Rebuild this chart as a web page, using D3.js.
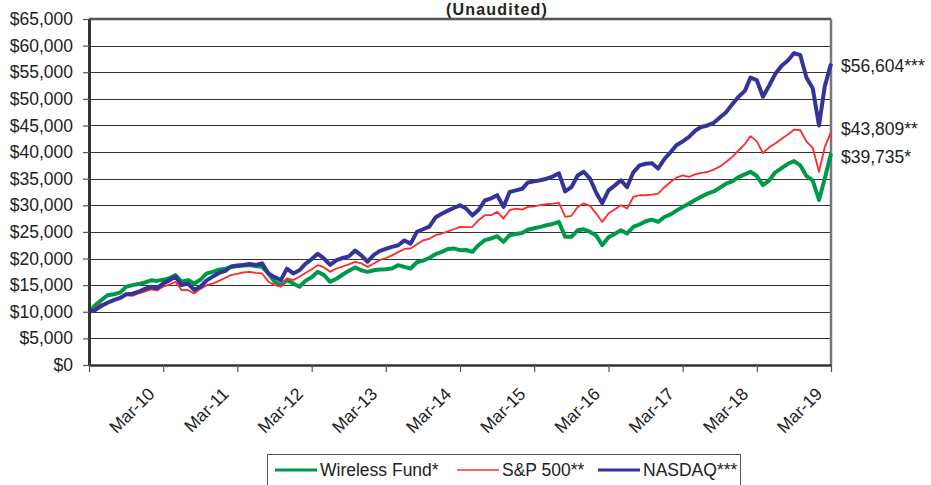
<!DOCTYPE html>
<html>
<head>
<meta charset="utf-8">
<script src="https://cdn.jsdelivr.net/npm/d3@7"></script>
<style>
  body { margin: 0; background: #fff; }
  svg { display: block; font-family: Arial, "Liberation Sans", sans-serif; }
</style>
</head>
<body>
<div id="chart"></div>
<script>
// value of $10,000, month-end readings from Mar-09 to Mar-19 (121 points each)
var wirelessFund = [
  10000, 11200, 12200, 13100, 13300, 13600, 14700, 15000, 15200, 15500, 15900, 15800,
  16000, 16300, 16880, 15630, 15950, 15300, 16000, 17200, 17500, 17900, 18100, 18400,
  18600, 18700, 18760, 18600, 18440, 17200, 15630, 15000, 15950, 15330, 14700, 15800,
  16500, 17500, 16880, 15630, 16200, 17000, 17700, 18330, 17800, 17500, 17800, 17950,
  18000, 18130, 18760, 18440, 18130, 19300, 19600, 20100, 20820, 21260, 21800, 21900,
  21570, 21600, 21260, 22500, 23450, 23770, 24200, 23130, 24390, 24600, 24800, 25400,
  25700, 25950, 26260, 26500, 26880, 24070, 24070, 25300, 25500, 25000, 24300, 22500,
  24000, 24600, 25330, 24700, 25950, 26400, 27000, 27300, 26900, 27800, 28300, 29000,
  29700, 30300, 31000, 31600, 32200, 32600, 33300, 34080, 34500, 35300, 35800, 36300,
  35500, 33800, 34700, 36200, 37000, 37800, 38300, 37500, 35500, 34700, 31000, 35000,
  39735
];
var sp500 = [
  10000, 10600, 11500, 11600, 12200, 12700, 13100, 13000, 13450, 13800, 14200, 14000,
  14700, 15100, 15630, 14070, 14100, 13450, 14300, 15000, 15300, 15800, 16400, 16880,
  17100, 17400, 17500, 17300, 17200, 15630, 15000, 14700, 16260, 15950, 16570, 17300,
  18000, 18760, 18330, 17500, 18130, 18500, 18900, 19380, 19100, 18440, 19070, 19700,
  20100, 20600, 21200, 21800, 21890, 22700, 23400, 23700, 24390, 24700, 25100, 25500,
  25950, 25900, 25950, 27200, 28140, 28140, 28760, 27520, 29080, 29390, 29200, 29700,
  29800, 30020, 30200, 30300, 30450, 27820, 28000, 29700, 30330, 29900, 28400, 26880,
  28450, 29200, 30020, 29390, 31570, 31890, 31890, 32000, 32200, 33400, 34390, 35200,
  35640, 35320, 35800, 36100, 36260, 36700, 37300, 38140, 39100, 40300, 41500, 43000,
  42000, 39800, 40900, 41600, 42500, 43300, 44200, 44100, 42000, 40800, 36300, 40900,
  43809
];
var nasdaq = [
  10000, 10300, 11100, 11700, 12200, 12600, 13300, 13400, 13760, 14300, 14700, 14400,
  15300, 15900, 16570, 15000, 15300, 14100, 14700, 15900, 16600, 17300, 17700, 18500,
  18700, 18800, 19000, 18800, 19100, 17200, 16500, 15950, 18100, 17200, 17800, 19000,
  19900, 20900, 20000, 18800, 19700, 20100, 20400, 21500, 20600, 19400, 20700, 21400,
  21800, 22200, 22500, 23400, 22800, 25000, 25500, 26000, 27700, 28400, 29000, 29500,
  30000, 29400, 28100, 29100, 30900, 31300, 31900, 29700, 32500, 32800, 33100, 34300,
  34500, 34700, 35000, 35400, 36000, 32600, 33400, 35600, 36300, 35000, 32300, 30400,
  32800, 33700, 34700, 33400, 36200, 37500, 37800, 37900, 36900, 38700, 40000, 41300,
  42000, 42800, 44000, 44700, 45000, 45500, 46500, 47500, 49000, 50400, 51500, 54000,
  53500, 50400, 52500, 54700, 56200, 57200, 58600, 58200, 54000, 52000, 45000, 52300,
  56604
];

var seriesNames = ['Wireless Fund*', 'S&P 500**', 'NASDAQ***'];
var endLabels = ['$39,735*', '$43,809**', '$56,604***'];
var xTickLabels = ['', 'Mar-10', 'Mar-11', 'Mar-12', 'Mar-13', 'Mar-14',
  'Mar-15', 'Mar-16', 'Mar-17', 'Mar-18', 'Mar-19'];
var yTicks = [0, 5000, 10000, 15000, 20000, 25000, 30000, 35000,
  40000, 45000, 50000, 55000, 60000, 65000];

var width = 931, height = 485;
var plotLeft = 89, plotRight = 831, plotTop = 19, plotBottom = 365;

// month ends: Mar 31 2009 ... Mar 31 2019
var dates = d3.timeMonth.range(new Date(2009, 3, 1), new Date(2019, 4, 1))
  .map(function (d) { return d3.timeDay.offset(d, -1); });
var marchDates = dates.filter(function (d) { return d.getMonth() === 2; });

var x = d3.scaleTime()
  .domain([dates[0], dates[dates.length - 1]])
  .range([plotLeft, plotRight]);

var y = d3.scaleLinear()
  .domain([0, 65000])
  .range([plotBottom, plotTop]);

var svg = d3.select('#chart')
  .append('svg')
  .attr('width', width)
  .attr('height', height);

// title (cut at the top of the picture)
svg.append('text')
  .attr('x', 497)
  .attr('y', 15)
  .attr('text-anchor', 'middle')
  .attr('font-size', '16px')
  .attr('font-weight', 'bold')
  .attr('letter-spacing', '1.2px')
  .attr('fill', '#222')
  .text('(Unaudited)');

// horizontal grid
svg.append('g')
  .selectAll('line')
  .data(yTicks.slice(1, -1))
  .enter()
  .append('line')
  .attr('x1', plotLeft)
  .attr('x2', plotRight)
  .attr('y1', function (d) { return Math.round(y(d)) + 0.5; })
  .attr('y2', function (d) { return Math.round(y(d)) + 0.5; })
  .attr('stroke', '#333')
  .attr('stroke-width', 1.2);

// plot frame
svg.append('line')
  .attr('x1', plotLeft).attr('x2', plotRight).attr('y1', y(65000)).attr('y2', y(65000))
  .attr('stroke', '#555').attr('stroke-width', 2.5);
svg.append('line')
  .attr('x1', plotRight).attr('x2', plotRight).attr('y1', plotTop).attr('y2', plotBottom)
  .attr('stroke', '#777').attr('stroke-width', 2.5);

// series lines
var series = [
  { name: seriesNames[0], values: wirelessFund, color: '#00984a', width: 4 },
  { name: seriesNames[1], values: sp500, color: '#ff2b2b', width: 1.8 },
  { name: seriesNames[2], values: nasdaq, color: '#333399', width: 4 }
];

var line = d3.line()
  .x(function (d, i) { return x(dates[i]); })
  .y(function (d) { return y(d); });

svg.append('g')
  .selectAll('path')
  .data(series)
  .enter()
  .append('path')
  .attr('d', function (s) { return line(s.values); })
  .attr('fill', 'none')
  .attr('stroke', function (s) { return s.color; })
  .attr('stroke-width', function (s) { return s.width; })
  .attr('stroke-linejoin', 'round');

// y axis
var yAxis = svg.append('g')
  .attr('transform', 'translate(' + plotLeft + ',0)')
  .call(d3.axisLeft(y).tickValues(yTicks).tickSize(6).tickSizeOuter(0)
    .tickFormat(d3.format('$,')));
yAxis.select('.domain').attr('stroke', '#333').attr('stroke-width', 3);
yAxis.selectAll('.tick line').attr('stroke', '#555').attr('stroke-width', 1.2);
yAxis.selectAll('.tick text')
  .attr('x', -16)
  .attr('font-size', '17.5px')
  .attr('font-family', 'Arial, "Liberation Sans", sans-serif')
  .attr('fill', '#222');

// x axis
var xAxis = svg.append('g')
  .attr('transform', 'translate(0,' + plotBottom + ')')
  .call(d3.axisBottom(x).tickValues(marchDates).tickSize(7).tickSizeOuter(0)
    .tickFormat(function (d, i) { return xTickLabels[i]; }));
xAxis.select('.domain').attr('stroke', '#333').attr('stroke-width', 2.5);
xAxis.selectAll('.tick line').attr('stroke', '#555').attr('stroke-width', 1.2);
xAxis.selectAll('.tick text')
  .attr('y', 0)
  .attr('dy', 0)
  .attr('text-anchor', 'end')
  .attr('transform', 'translate(-8,30) rotate(-45)')
  .attr('font-size', '17.5px')
  .attr('font-family', 'Arial, "Liberation Sans", sans-serif')
  .attr('fill', '#222');

// ending values on the right
var labelShift = [3.5, -3, 2];
svg.append('g')
  .selectAll('text')
  .data(series)
  .enter()
  .append('text')
  .attr('x', 841)
  .attr('y', function (s, i) { return y(s.values[s.values.length - 1]) + labelShift[i]; })
  .attr('dy', '0.35em')
  .attr('font-size', '17.5px')
  .attr('fill', '#222')
  .text(function (s, i) { return endLabels[i]; });

// legend
var legend = svg.append('g');
legend.append('rect')
  .attr('x', 267.5)
  .attr('y', 454.5)
  .attr('width', 473)
  .attr('height', 40)
  .attr('fill', '#fff')
  .attr('stroke', '#555')
  .attr('stroke-width', 1);

var legendX = [275, 457, 598];
var item = legend.selectAll('g.item')
  .data(series)
  .enter()
  .append('g')
  .attr('class', 'item')
  .attr('transform', function (s, i) { return 'translate(' + legendX[i] + ',470)'; });
item.append('line')
  .attr('x1', 0)
  .attr('x2', 42)
  .attr('stroke', function (s) { return s.color; })
  .attr('stroke-width', function (s) { return s.width === 4 ? 3 : 1.5; });
item.append('text')
  .attr('x', 45)
  .attr('y', 6)
  .attr('font-size', '17.5px')
  .attr('fill', '#222')
  .text(function (s) { return s.name; });
</script>
</body>
</html>
